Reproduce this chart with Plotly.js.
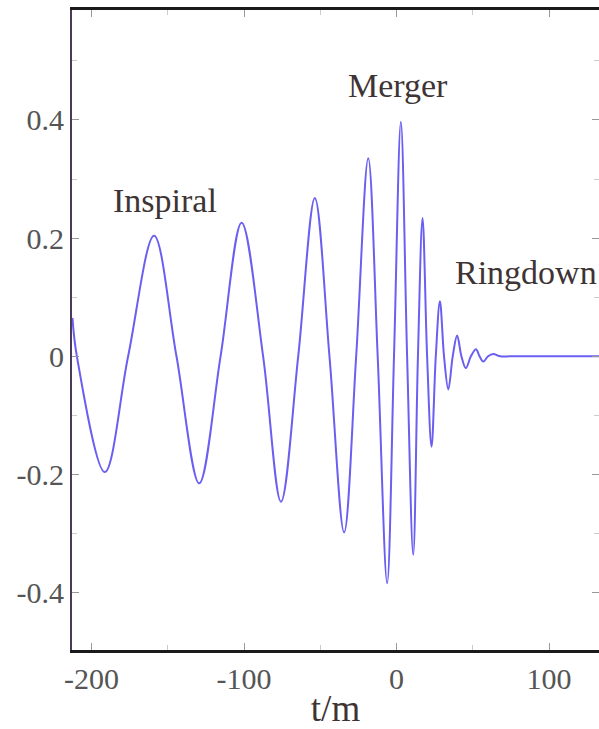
<!DOCTYPE html>
<html>
<head>
<meta charset="utf-8">
<script src="https://cdn.plot.ly/plotly-3.0.1.min.js"></script>
<style>html,body{margin:0;padding:0;background:#fff;}#chart{width:599px;height:729px;}</style>
</head>
<body>
<div id="chart"></div>
<script>
// Waveform: extrema and zero crossings (t/m, amplitude)
const tValues = [-212.5, -209.6, -191.3, -176.0, -159.0, -144.3, -129.4, -115.4, -101.6, -87.5,
  -75.8, -64.5, -53.6, -44.0, -34.4, -26.5, -18.6, -12.4, -6.2, -1.7, 2.8, 6.9, 10.9, 14.0,
  17.0, 20.0, 22.9, 25.7, 28.4, 31.1, 33.9, 36.8, 39.7, 42.5, 45.4, 48.7, 52.0, 54.4, 56.8,
  60.0, 63.3, 68.0, 75.0, 90.0, 110.0, 133.0];
const hValues = [0.065, 0.0, -0.196, 0.0, 0.204, 0.0, -0.215, 0.0, 0.226, 0.0,
  -0.246, 0.0, 0.268, 0.0, -0.298, 0.0, 0.335, 0.0, -0.384, 0.0, 0.397, 0.0, -0.336, 0.0,
  0.234, 0.0, -0.153, 0.0, 0.093, 0.0, -0.056, 0.0, 0.035, 0.0, -0.020, 0.0, 0.012, 0.0, -0.009,
  0.0, 0.004, 0.0, 0.0, 0.0, 0.0, 0.0];
const xTickVals = [-200, -100, 0, 100];
const xTickText = ['-200', '-100', '0', '100'];
const yTickVals = [-0.4, -0.2, 0, 0.2, 0.4];
const yTickText = ['-0.4', '-0.2', '0', '0.2', '0.4'];
const phaseLabels = ['Inspiral', 'Merger', 'Ringdown'];
const phaseX = [-151.9, 0.9, 36.9];
const phaseY = [0.263, 0.459, 0.141];
const phaseAnchor = ['center', 'center', 'left'];

const textColor = '#3e3434';
const serif = '"Liberation Serif", "Times New Roman", "DejaVu Serif", serif';

const trace = {
  x: tValues, y: hValues, type: 'scatter', mode: 'lines',
  line: {color: '#6a5ff0', width: 2, shape: 'spline', smoothing: 1},
  hoverinfo: 'skip'
};

const annotations = phaseLabels.map((txt, i) => ({
  x: phaseX[i], y: phaseY[i], xref: 'x', yref: 'y', text: txt, showarrow: false,
  font: {family: serif, size: 34, color: textColor}, xanchor: phaseAnchor[i], yanchor: 'middle'
}));

const layout = {
  width: 599, height: 729,
  margin: {l: 72, r: 0, t: 10, b: 79},
  paper_bgcolor: '#fff', plot_bgcolor: '#fff',
  showlegend: false,
  xaxis: {
    range: [-212.8, 132.7], tickvals: xTickVals, ticktext: xTickText,
    ticks: 'inside', ticklen: 7, tickcolor: '#999', tickwidth: 1,
    minor: {dtick: 50, tick0: 0, ticks: 'inside', ticklen: 5, tickcolor: '#ccc', showgrid: false},
    showline: true, linecolor: '#1a1a1a', linewidth: 3, mirror: 'ticks',
    showgrid: false, zeroline: false,
    tickfont: {family: serif, size: 30, color: '#555'},
    title: {text: 't/m', font: {family: serif, size: 37, color: textColor}, standoff: 4}
  },
  yaxis: {
    range: [-0.497, 0.586], tickvals: yTickVals, ticktext: yTickText,
    ticks: 'inside', ticklen: 7, tickcolor: '#999', tickwidth: 1,
    minor: {dtick: 0.1, tick0: 0, ticks: 'inside', ticklen: 5, tickcolor: '#ccc', showgrid: false},
    showline: true, linecolor: '#4a3a5a', linewidth: 2, mirror: 'ticks',
    showgrid: false, zeroline: false,
    tickfont: {family: serif, size: 30, color: '#555'}
  },
  annotations: annotations
};

Plotly.newPlot('chart', [trace], layout, {displayModeBar: false, staticPlot: true});
</script>
</body>
</html>
